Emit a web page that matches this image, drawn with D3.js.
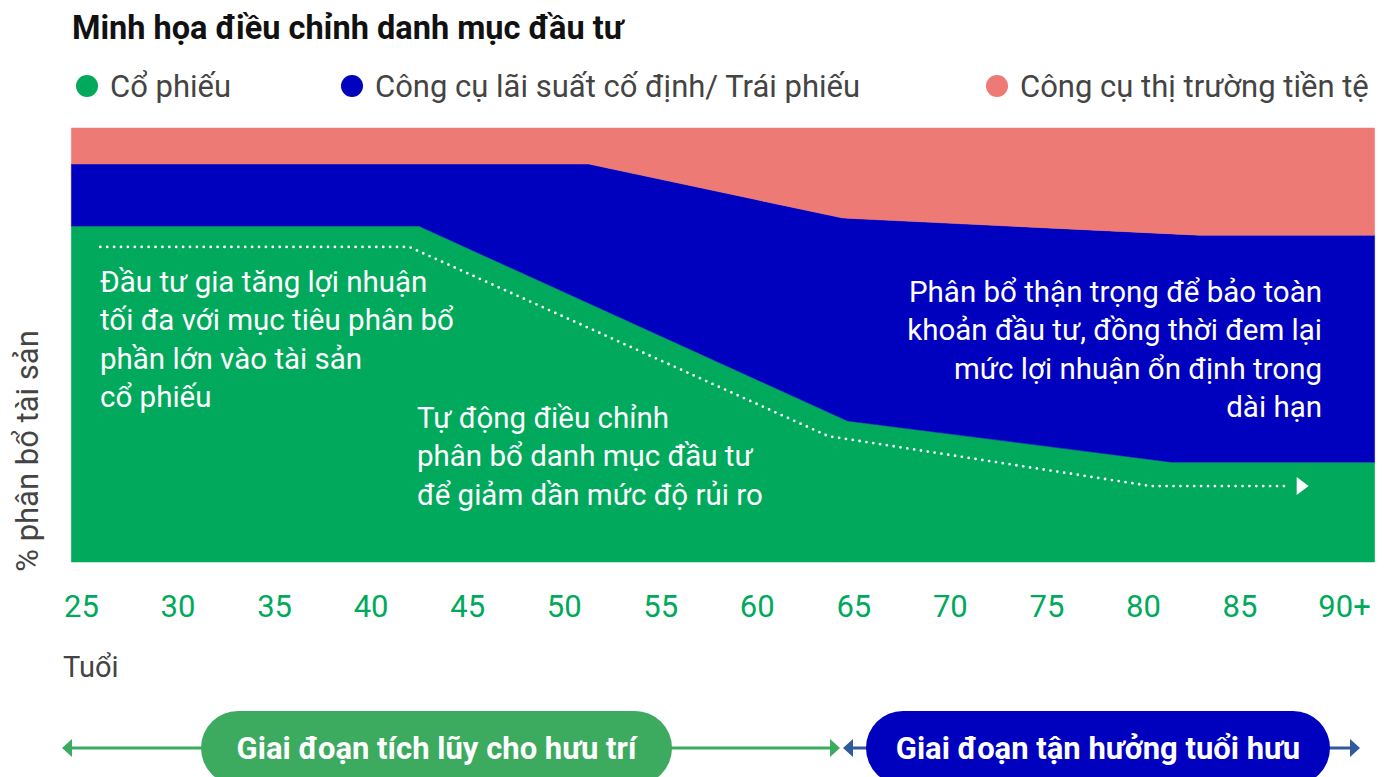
<!DOCTYPE html>
<html>
<head>
<meta charset="utf-8">
<script src="https://cdn.jsdelivr.net/npm/d3@7"></script>
<style>
  body { margin: 0; background: #fff; }
  svg { display: block; font-family: Roboto, "Noto Sans", sans-serif; }
</style>
</head>
<body>
<svg id="chart"></svg>
<script>
// Breakpoint ages (x) and allocation shares in %
const ages = [24.5, 42.5, 51.3, 64.4, 64.7, 81.5, 82.9, 92];
const equity = [77.4, 77.4, 59.6, 33.1, 32.5, 23.0, 23.0, 23.0];
const fixedIncome = [14.3, 14.3, 32.1, 46.2, 46.7, 52.6, 52.3, 52.3];
const moneyMarket = [8.3, 8.3, 8.3, 20.7, 20.8, 24.4, 24.7, 24.7];

// dotted glide path
const glideAges = [26, 42, 63.7, 80.4, 87.6];
const glidePct = [72.6, 72.6, 29.0, 17.5, 17.5];

const tickAges = [25, 30, 35, 40, 45, 50, 55, 60, 65, 70, 75, 80, 85, 90];
const legendLabels = ['Cổ phiếu', 'Công cụ lãi suất cố định/ Trái phiếu', 'Công cụ thị trường tiền tệ'];
const colors = ['#00a95c', '#0000bf', '#ee7a75'];

const width = 1386, height = 777;
const margin = { top: 128, right: 10, bottom: 215, left: 71 };

const svg = d3.select('#chart')
  .attr('width', width)
  .attr('height', height);

const x = d3.scaleLinear().domain([25, 90]).range([81, 1336]);
const y = d3.scaleLinear().domain([0, 100]).range([height - margin.bottom, margin.top]);

// Title
svg.append('text')
  .attr('x', 72).attr('y', 39)
  .attr('font-size', 32.5).attr('font-weight', 700)
  .attr('fill', '#111')
  .text('Minh họa điều chỉnh danh mục đầu tư');

// Legend
const legendX = [87, 352, 997];
legendLabels.forEach((label, i) => {
  const g = svg.append('g').attr('transform', `translate(${legendX[i]},86)`);
  g.append('circle').attr('r', 11).attr('fill', colors[i]);
  g.append('text')
    .attr('x', 23).attr('y', 11)
    .attr('font-size', 31).attr('fill', '#444')
    .text(label);
});

// Stacked areas
const table = ages.map((a, i) => ({ age: a, equity: equity[i], fixed: fixedIncome[i], money: moneyMarket[i] }));
const stack = d3.stack().keys(['equity', 'fixed', 'money']);
const series = stack(table);

const area = d3.area()
  .x(d => x(d.data.age))
  .y0(d => y(d[0]))
  .y1(d => y(d[1]));

svg.append('g')
  .selectAll('path')
  .data(series)
  .join('path')
    .attr('d', area)
    .attr('fill', (d, i) => colors[i])
    .attr('stroke', (d, i) => colors[i])
    .attr('stroke-width', 0.5);

// Glide path (dotted) + arrow head
const glide = glideAges.map((a, i) => [x(a), y(glidePct[i])]);
svg.append('path')
  .attr('d', d3.line()(glide))
  .attr('fill', 'none')
  .attr('stroke', '#fff')
  .attr('stroke-width', 2.8)
  .attr('stroke-linecap', 'round')
  .attr('stroke-dasharray', '0 6.9');

const tip = glide[glide.length - 1];
svg.append('path')
  .attr('d', `M${tip[0] + 7},${tip[1] - 9} L${tip[0] + 19},${tip[1]} L${tip[0] + 7},${tip[1] + 9} Z`)
  .attr('fill', '#fff');

// Annotations
const notes = [
  { x: 100, y: 292, anchor: 'start', lines: ['Đầu tư gia tăng lợi nhuận', 'tối đa với mục tiêu phân bổ', 'phần lớn vào tài sản', 'cổ phiếu'] },
  { x: 417, y: 428, anchor: 'start', lines: ['Tự động điều chỉnh', 'phân bổ danh mục đầu tư', 'để giảm dần mức độ rủi ro'] },
  { x: 1322, y: 302, anchor: 'end', lines: ['Phân bổ thận trọng để bảo toàn', 'khoản đầu tư, đồng thời đem lại', 'mức lợi nhuận ổn định trong', 'dài hạn'] }
];
notes.forEach(n => {
  const t = svg.append('text')
    .attr('font-size', 29.5).attr('fill', '#fff')
    .attr('text-anchor', n.anchor);
  n.lines.forEach((line, i) => {
    t.append('tspan').attr('x', n.x).attr('y', n.y + i * 38.3).text(line);
  });
});

// X axis
const xAxis = svg.append('g')
  .attr('transform', `translate(0,${height - margin.bottom})`)
  .call(d3.axisBottom(x).tickValues(tickAges).tickSize(0).tickPadding(33)
    .tickFormat(d => d === 90 ? '90+' : d));
xAxis.select('.domain').remove();
xAxis.selectAll('text')
  .attr('font-family', 'Roboto, sans-serif')
  .attr('font-size', 31)
  .attr('fill', colors[0])
  .attr('dx', d => d === 90 ? 8 : 0);

svg.append('text')
  .attr('x', 63).attr('y', 677)
  .attr('font-size', 29).attr('fill', '#444')
  .text('Tuổi');

// Y axis label
svg.append('text')
  .attr('transform', `translate(38,451) rotate(-90)`)
  .attr('text-anchor', 'middle')
  .attr('font-size', 31).attr('fill', '#444')
  .text('% phân bổ tài sản');

// Life phases at the bottom
const phases = [
  { x0: 62, x1: 840, px0: 201, px1: 672, line: '#3dab5f', fill: '#3dab5f', label: 'Giai đoạn tích lũy cho hưu trí' },
  { x0: 843, x1: 1360, px0: 866, px1: 1330, line: '#2f5a9e', fill: '#0000bf', label: 'Giai đoạn tận hưởng tuổi hưu' }
];
const py = 748;
phases.forEach(p => {
  const g = svg.append('g');
  g.append('line')
    .attr('x1', p.x0 + 6).attr('x2', p.x1 - 6)
    .attr('y1', py).attr('y2', py)
    .attr('stroke', p.line).attr('stroke-width', 3);
  g.append('path')
    .attr('d', `M${p.x0},${py} L${p.x0 + 10},${py - 9} L${p.x0 + 10},${py + 9} Z`)
    .attr('fill', p.line);
  g.append('path')
    .attr('d', `M${p.x1},${py} L${p.x1 - 10},${py - 9} L${p.x1 - 10},${py + 9} Z`)
    .attr('fill', p.line);
  g.append('rect')
    .attr('x', p.px0).attr('y', py - 37)
    .attr('width', p.px1 - p.px0).attr('height', 74)
    .attr('rx', 37)
    .attr('fill', p.fill);
  g.append('text')
    .attr('x', (p.px0 + p.px1) / 2).attr('y', py + 11)
    .attr('text-anchor', 'middle')
    .attr('font-size', 31).attr('font-weight', 700)
    .attr('fill', '#fff')
    .text(p.label);
});
</script>
</body>
</html>
